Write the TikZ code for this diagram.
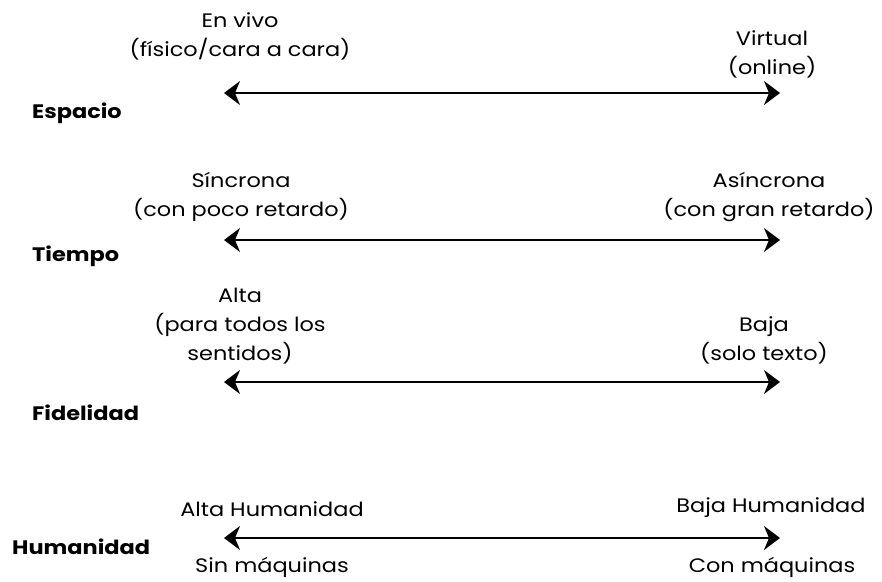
\documentclass[tikz,border=0pt]{standalone}
\usepackage{fontspec}
\setmainfont{Poppins}[FakeStretch=1.15]
\usepackage{tikz}
\usetikzlibrary{arrows.meta}

\begin{document}
\begin{tikzpicture}[x=1pt,y=-1pt,
  txt/.style={align=center,inner sep=0pt,font=\fontsize{19.5}{29}\selectfont},
  dim/.style={anchor=west,inner sep=0pt,font=\fontsize{19.5}{22}\selectfont\bfseries},
  axis/.style={line width=2pt,{Stealth[length=16pt,width=24pt,inset=5pt]}-{Stealth[length=16pt,width=24pt,inset=5pt]}}]
\useasboundingbox (0,0) rectangle (882,581);
% Espacio
\node [dim] (espacio) at (32,113) {Espacio};
\node [txt] (vivo) at (240,36) {En vivo\\(físico/cara a cara)};
\node [txt] (virtual) at (772,54) {Virtual\\(online)};
\coordinate (espL) at (224,93);
\coordinate (espR) at (780,93);
\draw [axis] (espL) -- (espR);
% Tiempo
\node [dim] (tiempo) at (32,256) {Tiempo};
\node [txt] (sincrona) at (241,197) {Síncrona\\(con poco retardo)};
\node [txt] (asincrona) at (769,197) {Asíncrona\\(con gran retardo)};
\coordinate (tieL) at (224,240);
\coordinate (tieR) at (780,240);
\draw [axis] (tieL) -- (tieR);
% Fidelidad
\node [dim] (fidelidad) at (32,413) {Fidelidad};
\node [txt] (alta) at (240,326) {Alta\\(para todos los\\sentidos)};
\node [txt] (baja) at (764,340) {Baja\\(solo texto)};
\coordinate (fidL) at (224,382);
\coordinate (fidR) at (780,382);
\draw [axis] (fidL) -- (fidR);
% Humanidad
\node [dim] (humanidad) at (12,547) {Humanidad};
\node [txt] (altahum) at (272,509) {Alta Humanidad};
\node [txt] (bajahum) at (771,508) {Baja Humanidad};
\node [txt] (sinmaq) at (272,567) {Sin máquinas};
\node [txt] (conmaq) at (772,567) {Con máquinas};
\coordinate (humL) at (224,538);
\coordinate (humR) at (780,538);
\draw [axis] (humL) -- (humR);
\end{tikzpicture}
\end{document}
